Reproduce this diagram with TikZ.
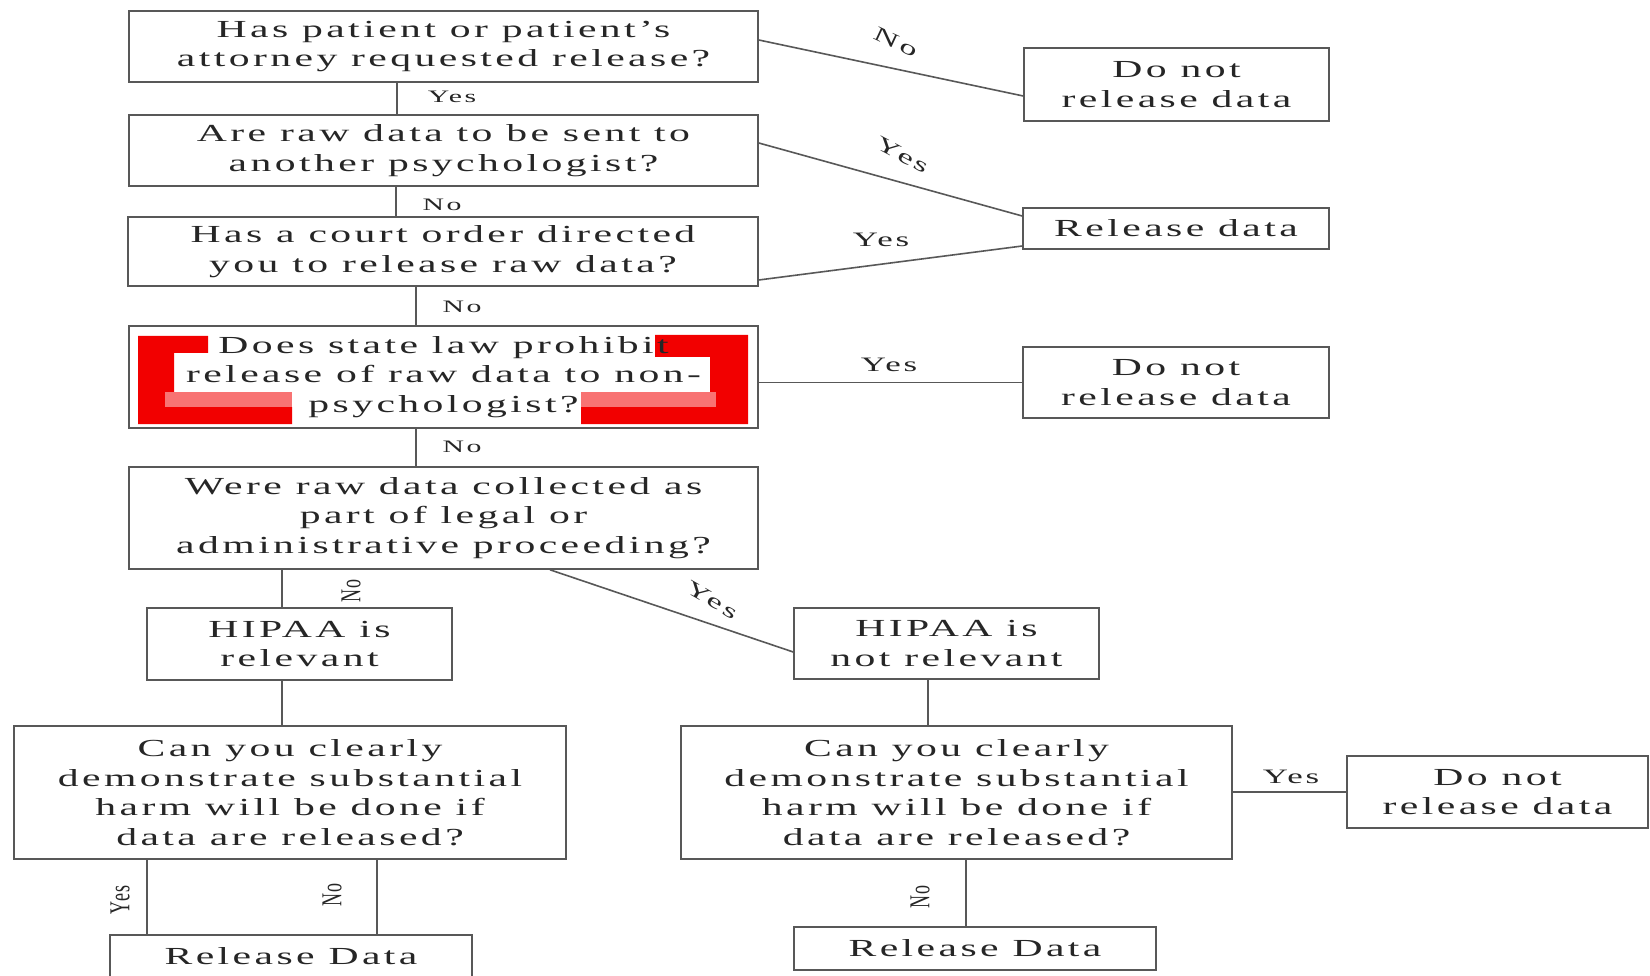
\documentclass[tikz,border=0pt]{standalone}
\usepackage{graphicx}
\usepackage{fontspec}
\setmainfont{Liberation Serif}[FakeStretch=1.7, LetterSpace=14]
\newfontfamily\rotfont{Liberation Serif}[LetterSpace=10]
\usetikzlibrary{calc}
\definecolor{ink}{HTML}{262626}
\definecolor{edge}{HTML}{585858}
\definecolor{redmark}{HTML}{F20000}
\begin{document}
\begin{tikzpicture}[x=1pt,y=-1pt,
  box/.style={draw=edge, line width=1.6pt, inner sep=0pt, text=ink, align=center,
    font=\fontsize{24.5}{29.5}\selectfont},
  conn/.style={draw=edge, line width=1.6pt},
  lbl/.style={inner sep=0pt, text=ink, font=\fontsize{17.5}{20}\selectfont},
  sidelbl/.style={inner sep=0pt, text=ink, font=\fontsize{20.5}{22}\selectfont},
  rotlbl/.style={inner sep=0pt, text=ink, rotate=90, font=\rotfont\fontsize{18}{20}\selectfont}]
\useasboundingbox (0,0) rectangle (1650,976);
\clip (0,0) rectangle (1650,976);
\fill[white] (0,0) rectangle (1650,976);
% red marks
\fill[redmark] (138,336) -- (208,336) -- (208,353) -- (174,353) -- (174,407) -- (292,407) -- (292,424) -- (138,424) -- cycle;
\fill[redmark!55] (165,392) rectangle (292,407);
\fill[redmark] (655,335) -- (748,335) -- (748,424) -- (581,424) -- (581,407) -- (710,407) -- (710,357) -- (655,357) -- cycle;
\fill[redmark!55] (581,392) rectangle (716,407);
% boxes
\node[box, minimum width=629pt, minimum height=71pt] (b1) at (443.5,46.5) {Has patient or patient's\\attorney requested release?};
\node[box, minimum width=305pt, minimum height=73pt] (dn1) at (1176.5,84.5) {Do not\\release data};
\node[box, minimum width=629pt, minimum height=71pt] (b2) at (443.5,150.5) {Are raw data to be sent to\\another psychologist?};
\node[box, minimum width=306pt, minimum height=41pt] (rel1) at (1176,228.5) {Release data};
\node[box, minimum width=630pt, minimum height=69pt] (b3) at (443,251.5) {Has a court order directed\\you to release raw data?};
\node[box, minimum width=629pt, minimum height=102pt] (b4) at (443.5,377) {Does state law prohibit\\release of raw data to non-\\psychologist?};
\node[box, minimum width=306pt, minimum height=71pt] (dn2) at (1176,382.5) {Do not\\release data};
\node[box, minimum width=629pt, minimum height=102pt] (b5) at (443.5,518) {Were raw data collected as\\part of legal or\\administrative proceeding?};
\node[box, minimum width=305pt, minimum height=72pt] (h1) at (299.5,644) {HIPAA is\\relevant};
\node[box, minimum width=305pt, minimum height=71pt] (h2) at (946.5,643.5) {HIPAA is\\not relevant};
\node[box, minimum width=552pt, minimum height=133pt] (c1) at (290,792.5) {Can you clearly\\demonstrate substantial\\harm will be done if\\data are released?};
\node[box, minimum width=551pt, minimum height=133pt] (c2) at (956.5,792.5) {Can you clearly\\demonstrate substantial\\harm will be done if\\data are released?};
\node[box, minimum width=301pt, minimum height=72pt] (dn3) at (1497.5,792) {Do not\\release data};
\node[box, minimum width=362pt, minimum height=43pt] (rd1) at (291,956.5) {Release Data};
\node[box, minimum width=362pt, minimum height=43pt] (rd2) at (975,948.5) {Release Data};
% vertical connectors
\path ([xshift=-46.5pt]b1.south) coordinate (t1);
\draw[conn] (t1) -- (t1 |- b2.north);
\path ([xshift=-47.5pt]b2.south) coordinate (t2);
\draw[conn] (t2) -- (t2 |- b3.north);
\path ([xshift=-27pt]b3.south) coordinate (t3);
\draw[conn] (t3) -- (t3 |- b4.north);
\path ([xshift=-27.5pt]b4.south) coordinate (t4);
\draw[conn] (t4) -- (t4 |- b5.north);
\path ([xshift=-17.5pt]h1.north) coordinate (t5);
\draw[conn] (t5) -- (t5 |- b5.south);
\path ([xshift=-17.5pt]h1.south) coordinate (t6);
\draw[conn] (t6) -- (t6 |- c1.north);
\path ([xshift=-18.5pt]h2.south) coordinate (t7);
\draw[conn] (t7) -- (t7 |- c2.north);
\path ([xshift=-9pt]rd2.north) coordinate (t8);
\draw[conn] (t8) -- (t8 |- c2.south);
\path ([xshift=-144pt]rd1.north) coordinate (t9);
\draw[conn] (t9) -- (t9 |- c1.south);
\path ([xshift=86pt]rd1.north) coordinate (t10);
\draw[conn] (t10) -- (t10 |- c1.south);
% side connectors
\draw[conn] ([yshift=6.5pt]b1.east) -- ([yshift=-11.5pt]dn1.west);
\draw[conn] ([yshift=7.5pt]b2.east) -- ([yshift=12.5pt]rel1.west);
\draw[conn] ([yshift=-28.5pt]b3.east) -- ([yshift=-17.5pt]rel1.west);
\draw[conn] (b4.east |- dn2.west) -- (dn2.west);
\draw[conn] ([xshift=106.5pt]b5.south) -- ([yshift=-8.5pt]h2.west);
\draw[conn] (c2.east |- dn3.west) -- (dn3.west);
% labels
\node[lbl] (l1) at (452,97) {Yes};
\node[lbl] (l2) at (442,205) {No};
\node[lbl] (l3) at (462,307) {No};
\node[lbl] (l4) at (462,447) {No};
\node[rotlbl] (l5) at (351,591) {\scalebox{1}[1.6]{No}};
\node[sidelbl, rotate=-30] (l6) at (712,600) {Yes};
\node[rotlbl] (l7) at (120,900) {\scalebox{1}[1.6]{Yes}};
\node[rotlbl] (l8) at (332,895) {\scalebox{1}[1.6]{No}};
\node[rotlbl] (l9) at (920,897) {\scalebox{1}[1.6]{No}};
\node[sidelbl] (l10) at (1291,777) {Yes};
\node[sidelbl] (l11) at (889,365) {Yes};
\node[sidelbl, rotate=-25] (l12) at (896,42) {No};
\node[sidelbl, rotate=-28] (l13) at (903,155) {Yes};
\node[sidelbl] (l14) at (881,240) {Yes};
\end{tikzpicture}
\end{document}
